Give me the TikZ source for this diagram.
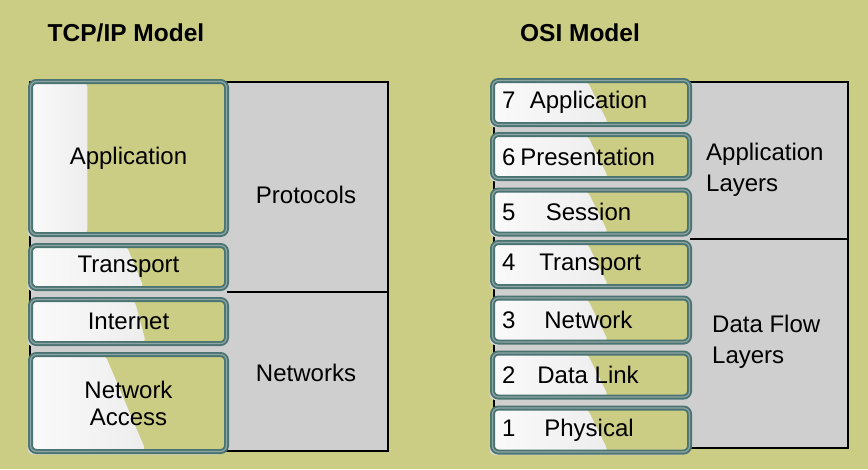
\documentclass[tikz,border=0pt]{standalone}
\usepackage{fontspec}
\setmainfont{Liberation Sans}
\usetikzlibrary{calc,shadows}

\definecolor{olivebg}{HTML}{CCCD84}
\definecolor{panelgray}{HTML}{CFCFCF}
\definecolor{shadowgray}{HTML}{D6D6D6}
\definecolor{tealdark}{HTML}{4B7372}
\definecolor{tealmid}{HTML}{8CA6A4}

\tikzset{
  layer/.style 2 args={draw=tealdark, line width=1.9pt, double=tealmid, double distance=1.2pt,
    rounded corners=6pt, inner sep=0pt, align=center,
    font=\fontsize{24}{27}\selectfont,
    drop shadow={shadow xshift=-3pt, shadow yshift=-3pt, fill=shadowgray, opacity=1},
    path picture={
      \fill[olivebg] (path picture bounding box.south west) rectangle (path picture bounding box.north east);
      \shade[left color=white!96!gray, right color=white!86!gray]
        (path picture bounding box.north west)
        -- ($(path picture bounding box.north west)!#1!(path picture bounding box.north east)$)
        -- ($(path picture bounding box.south west)!#2!(path picture bounding box.south east)$)
        -- (path picture bounding box.south west) -- cycle;}},
  tcplayer/.style 2 args={layer={#1}{#2}, minimum width=196pt},
  osilayer/.style={layer={0.48}{0.59}, minimum width=197pt, minimum height=44pt},
  panel/.style={draw=black, line width=1.2pt, fill=panelgray},
  grouplabel/.style={font=\fontsize{24}{31}\selectfont, align=left, inner sep=0pt},
  modeltitle/.style={font=\fontsize{24.5}{28}\selectfont\bfseries, inner sep=0pt}
}

\newcommand{\ositext}[3]{\makebox[178pt][l]{#1\hspace{#2}#3}}

\begin{document}
\begin{tikzpicture}[x=1pt, y=-1pt]
\fill[olivebg] (0,0) rectangle (868,469);
\useasboundingbox (0,0) rectangle (868,469);
\node[modeltitle] (tcptitle) at (126,33) {TCP/IP Model};
\node[modeltitle] (osititle) at (580,33) {OSI Model};
\draw[panel] (30,82) rectangle (388,451);
\draw[panel] (494,82) rectangle (848,448);
\node[tcplayer={0.29}{0.29}, minimum height=153pt] (tcpapp) at (128.5,158) {Application};
\node[tcplayer={0.49}{0.58}, minimum height=43pt] (tcptrans) at (128.5,267) {Transport};
\node[tcplayer={0.53}{0.59}, minimum height=44pt] (tcpnet) at (128.5,321.5) {Internet};
\node[tcplayer={0.38}{0.59}, minimum height=97pt] (tcpaccess) at (128.5,403) {Network\\Access};
\node[osilayer] (osi7) at (591,102.5) {\ositext{7}{14.5pt}{Application}};
\node[osilayer] (osi6) at (591,156.5) {\ositext{6}{5pt}{Presentation}};
\node[osilayer] (osi5) at (591,212) {\ositext{5}{30.5pt}{Session}};
\node[osilayer] (osi4) at (591,264.5) {\ositext{4}{24pt}{Transport}};
\node[osilayer] (osi3) at (591,320) {\ositext{3}{29pt}{Network}};
\node[osilayer] (osi2) at (591,375) {\ositext{2}{22pt}{Data Link}};
\node[osilayer] (osi1) at (591,430) {\ositext{1}{29pt}{Physical}};
\draw[line width=1.2pt] (tcptrans.east |- 0,292) -- (388,292);
\draw[line width=1.2pt] (osi5.east |- 0,239) -- (848,239);
\node[grouplabel] (protocols) at (306,195) {Protocols};
\node[grouplabel] (networks) at (306,373) {Networks};
\node[grouplabel, anchor=west] (applayers) at (706,170) {Application\\Layers};
\node[grouplabel, anchor=west] (flowlayers) at (712,342) {Data Flow\\Layers};
\end{tikzpicture}
\end{document}
